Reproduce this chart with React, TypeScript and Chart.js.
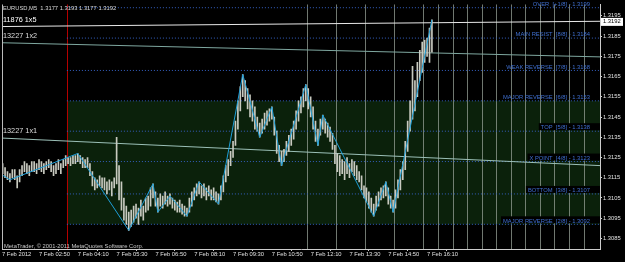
import React, { useEffect, useRef } from "react";
import { Chart, registerables } from "chart.js";
Chart.register(...registerables);

// ---- data ----
const symbolName = "EURUSD,M5";
const lastOHLC = [1.3177, 1.3193, 1.3177, 1.3192];

const highs = [
  1.3120, 1.3122, 1.3120, 1.3118, 1.3117, 1.3119, 1.3119, 1.3116, 1.3119, 1.3121,
  1.3123, 1.3122, 1.3121, 1.3123, 1.3123, 1.3122, 1.3124, 1.3123, 1.3122, 1.3123,
  1.3124, 1.3123, 1.3121, 1.3122, 1.3124, 1.3122, 1.3124, 1.3126, 1.3125, 1.3125,
  1.3126, 1.3126, 1.3127, 1.3126, 1.3125, 1.3124, 1.3125, 1.3122, 1.3118, 1.3115,
  1.3114, 1.3116, 1.3115, 1.3115, 1.3113, 1.3114, 1.3113, 1.3115, 1.3135, 1.3121,
  1.3113, 1.3105, 1.3101, 1.3098, 1.3099, 1.3101, 1.3102, 1.3100, 1.3104, 1.3101,
  1.3105, 1.3106, 1.3110, 1.3112, 1.3108, 1.3105, 1.3107, 1.3106, 1.3108, 1.3106,
  1.3107, 1.3105, 1.3104, 1.3103, 1.3104, 1.3102, 1.3101, 1.3100, 1.3105, 1.3108,
  1.3110, 1.3112, 1.3113, 1.3111, 1.3112, 1.3110, 1.3111, 1.3109, 1.3110, 1.3108,
  1.3107, 1.3111, 1.3116, 1.3121, 1.3124, 1.3128, 1.3133, 1.3143, 1.3153, 1.3160,
  1.3166, 1.3163, 1.3159, 1.3156, 1.3153, 1.3150, 1.3145, 1.3142, 1.3144, 1.3147,
  1.3148, 1.3149, 1.3150, 1.3145, 1.3138, 1.3131, 1.3128, 1.3129, 1.3133, 1.3136,
  1.3139, 1.3143, 1.3148, 1.3153, 1.3155, 1.3159, 1.3161, 1.3159, 1.3155, 1.3150,
  1.3143, 1.3139, 1.3144, 1.3146, 1.3144, 1.3142, 1.3140, 1.3137, 1.3131, 1.3127,
  1.3126, 1.3124, 1.3123, 1.3125, 1.3122, 1.3124, 1.3123, 1.3121, 1.3118, 1.3116,
  1.3111, 1.3110, 1.3108, 1.3105, 1.3102, 1.3106, 1.3108, 1.3110, 1.3111, 1.3113,
  1.3110, 1.3106, 1.3104, 1.3109, 1.3114, 1.3119, 1.3123, 1.3133, 1.3143, 1.3153,
  1.3170, 1.3163, 1.3172, 1.3178, 1.3182, 1.3183, 1.3184, 1.3189, 1.3193,
];

const lows = [
  1.3116, 1.3117, 1.3115, 1.3114, 1.3113, 1.3115, 1.3114, 1.3110, 1.3113, 1.3116,
  1.3118, 1.3117, 1.3116, 1.3118, 1.3118, 1.3117, 1.3119, 1.3118, 1.3117, 1.3119,
  1.3120, 1.3118, 1.3116, 1.3117, 1.3119, 1.3117, 1.3120, 1.3121, 1.3122, 1.3121,
  1.3122, 1.3122, 1.3123, 1.3122, 1.3120, 1.3120, 1.3120, 1.3116, 1.3111, 1.3109,
  1.3110, 1.3111, 1.3110, 1.3109, 1.3107, 1.3109, 1.3106, 1.3110, 1.3112, 1.3104,
  1.3099, 1.3094, 1.3092, 1.3089, 1.3091, 1.3093, 1.3095, 1.3092, 1.3096, 1.3094,
  1.3098, 1.3099, 1.3101, 1.3105, 1.3101, 1.3098, 1.3101, 1.3100, 1.3102, 1.3101,
  1.3102, 1.3100, 1.3099, 1.3098, 1.3098, 1.3097, 1.3096, 1.3096, 1.3098, 1.3101,
  1.3104, 1.3106, 1.3107, 1.3105, 1.3106, 1.3104, 1.3106, 1.3104, 1.3104, 1.3103,
  1.3102, 1.3104, 1.3108, 1.3113, 1.3116, 1.3121, 1.3125, 1.3131, 1.3139, 1.3148,
  1.3155, 1.3153, 1.3149, 1.3145, 1.3143, 1.3139, 1.3138, 1.3135, 1.3137, 1.3139,
  1.3141, 1.3143, 1.3144, 1.3136, 1.3127, 1.3123, 1.3121, 1.3123, 1.3126, 1.3128,
  1.3131, 1.3134, 1.3139, 1.3143, 1.3147, 1.3150, 1.3153, 1.3149, 1.3145, 1.3139,
  1.3133, 1.3131, 1.3136, 1.3139, 1.3137, 1.3135, 1.3133, 1.3129, 1.3122, 1.3118,
  1.3116, 1.3117, 1.3114, 1.3117, 1.3115, 1.3118, 1.3116, 1.3114, 1.3113, 1.3109,
  1.3105, 1.3103, 1.3100, 1.3098, 1.3096, 1.3099, 1.3101, 1.3104, 1.3105, 1.3106,
  1.3102, 1.3100, 1.3098, 1.3100, 1.3105, 1.3109, 1.3114, 1.3119, 1.3128, 1.3138,
  1.3144, 1.3148, 1.3155, 1.3163, 1.3167, 1.3172, 1.3175, 1.3172, 1.3177,
];

const zigzagIndex = [0, 4, 32, 53, 63, 65, 70, 77, 82, 90, 100, 107, 112, 116, 126, 131, 133, 154, 159, 162, 178];
const zigzagPrice = [
  1.3117, 1.3114, 1.3127, 1.3089, 1.3112, 1.3098, 1.3106, 1.3096, 1.3113, 1.3102,
  1.3166, 1.3135, 1.3150, 1.3121, 1.3161, 1.3131, 1.3146, 1.3096, 1.3113, 1.3098, 1.3193,
];

const levelPrices = [1.3199, 1.3184, 1.3168, 1.3153, 1.3138, 1.3123, 1.3107, 1.3092];
const levelLabels = [
  "OVER  [+1/8] - 1.3199",
  "MAIN RESIST  [8/8] - 1.3184",
  "WEAK REVERSE  [7/8] - 1.3168",
  "MAJOR REVERSE  [6/8] - 1.3153",
  "TOP  [5/8] - 1.3138",
  "X POINT  [4/8] - 1.3123",
  "BOTTOM  [3/8] - 1.3107",
  "MAJOR REVERSE  [2/8] - 1.3092",
];

const gannNames = ["11876 1x5", "13227 1x2", "13227 1x1"];
const gannStart = [1.31897, 1.31817, 1.31346];
const gannEnd = [1.31923, 1.31747, 1.31210];

const timeTickIndex = [0.74, 16, 32, 48, 64, 80, 96, 112, 128, 144, 160, 176];
const timeLabels = [
  "7 Feb 2012", "7 Feb 02:50", "7 Feb 04:10", "7 Feb 05:30", "7 Feb 06:50", "7 Feb 08:10",
  "7 Feb 09:30", "7 Feb 10:50", "7 Feb 12:10", "7 Feb 13:30", "7 Feb 14:50", "7 Feb 16:10",
];
const priceTicks = [1.3085, 1.3095, 1.3105, 1.3115, 1.3125, 1.3135, 1.3145, 1.3155, 1.3165, 1.3175, 1.3185, 1.3195];

const markerIndex = 27.5; // red vertical line / start of levels
const timeLineIndex = [126.5, 138.5, 150.5, 162.5, 174.5, 180.5, 186.5, 192.5, 198.5, 204.5, 210.5, 216.5, 222.5, 228.5, 234.5, 240.5];
const zoneTop = 1.3153;
const zoneBottom = 1.3092;

const xMin = 0.74;
const xMax = 247.3;
const yMin = 1.30798;
const yMax = 1.32006;

const FONT = "'Liberation Sans', Arial, sans-serif";
const small = `5.8px ${FONT}`;

const mtPlugin = {
  id: "mt",
  beforeDraw(chart: any) {
    const { ctx, width, height } = chart;
    ctx.save();
    ctx.fillStyle = "#000000";
    ctx.fillRect(0, 0, width, height);
    ctx.restore();
  },
  beforeDatasetsDraw(chart: any) {
    const { ctx, chartArea, scales } = chart;
    const x = scales.x, y = scales.y;
    ctx.save();
    const gx = x.getPixelForValue(markerIndex);
    const gy0 = y.getPixelForValue(zoneTop);
    const gy1 = y.getPixelForValue(zoneBottom);
    ctx.fillStyle = "#0b210b";
    ctx.fillRect(gx, gy0, chartArea.right - gx, gy1 - gy0);
    // time lines
    ctx.strokeStyle = "rgba(150,160,150,0.75)";
    ctx.lineWidth = 1;
    timeLineIndex.forEach((v) => {
      const px = Math.round(x.getPixelForValue(v)) + 0.5;
      ctx.beginPath();
      ctx.moveTo(px, chartArea.top);
      ctx.lineTo(px, chartArea.bottom);
      ctx.stroke();
    });
    // red line
    ctx.strokeStyle = "#b40000";
    const rx = Math.round(gx) + 0.5;
    ctx.beginPath();
    ctx.moveTo(rx, chartArea.top);
    ctx.lineTo(rx, chartArea.bottom);
    ctx.stroke();
    ctx.restore();
  },
  afterDatasetsDraw(chart: any) {
    const { ctx, chartArea, scales } = chart;
    const x = scales.x, y = scales.y;
    ctx.save();
    // level labels
    ctx.font = small;
    ctx.textAlign = "right";
    ctx.textBaseline = "bottom";
    const rightX = chartArea.right - 10;
    levelPrices.forEach((p, i) => {
      const py = y.getPixelForValue(p);
      const label = levelLabels[i];
      if (p <= zoneTop + 0.00001 && p > zoneBottom - 0.00001 && i > 3) {
        const w = ctx.measureText(label).width;
        ctx.fillStyle = "#000000";
        ctx.fillRect(rightX - w - 2, py - 8, chartArea.right - (rightX - w - 2), 7);
      }
      ctx.fillStyle = "#3f6fd0";
      ctx.fillText(label, rightX, py - 0.5);
    });
    // gann labels
    ctx.font = `7.3px ${FONT}`;
    ctx.textAlign = "left";
    ctx.textBaseline = "middle";
    gannNames.forEach((n, i) => {
      const py = y.getPixelForValue(gannStart[i]);
      ctx.fillStyle = i === 0 ? "#ffffff" : "#dddddd";
      ctx.fillText(n, chartArea.left + 1, py - 7);
    });
    // header
    ctx.font = small;
    ctx.fillStyle = "#d8d8d8";
    ctx.fillText(`${symbolName}  ${lastOHLC.map((v) => v.toFixed(4)).join(" ")}`, chartArea.left + 1, chartArea.top + 4);
    // copyright
    ctx.fillStyle = "#c8c8c8";
    ctx.fillText("MetaTrader, © 2001-2011 MetaQuotes Software Corp.", chartArea.left + 2, chartArea.bottom - 3);
    // left / top border
    ctx.strokeStyle = "#bbbbbb";
    ctx.lineWidth = 1;
    ctx.beginPath();
    ctx.moveTo(chartArea.left + 0.5, chartArea.top);
    ctx.lineTo(chartArea.left + 0.5, chartArea.bottom);
    ctx.stroke();
    ctx.restore();
  },
  afterDraw(chart: any) {
    const { ctx, chartArea, scales } = chart;
    const y = scales.y;
    ctx.save();
    const py = y.getPixelForValue(lastOHLC[3]);
    ctx.fillStyle = "#ffffff";
    ctx.fillRect(chartArea.right + 1, py - 4, 22, 8);
    ctx.fillStyle = "#000000";
    ctx.font = small;
    ctx.textAlign = "left";
    ctx.textBaseline = "middle";
    ctx.fillText(lastOHLC[3].toFixed(4), chartArea.right + 3, py);
    ctx.restore();
  },
};

export default function App() {
  const ref = useRef<HTMLCanvasElement | null>(null);
  useEffect(() => {
    if (!ref.current) return;
    const levelSets = levelPrices.map((p) => ({
      type: "line" as const,
      data: [{ x: markerIndex, y: p }, { x: xMax, y: p }],
      borderColor: "#3560c0",
      borderWidth: 1,
      borderDash: [1, 2],
      pointRadius: 0,
      order: 5,
    }));
    const gannSets = gannNames.map((_, i) => ({
      type: "line" as const,
      data: [{ x: xMin, y: gannStart[i] }, { x: xMax, y: gannEnd[i] }],
      borderColor: i === 0 ? "#e8e8e8" : i === 1 ? "#7fa8a0" : "#9cc0b8",
      borderWidth: 1,
      pointRadius: 0,
      order: 3,
    }));
    const chart = new Chart(ref.current, {
      type: "bar",
      data: {
        datasets: [
          {
            type: "line",
            data: zigzagIndex.map((v, i) => ({ x: v, y: zigzagPrice[i] })),
            borderColor: "#1e9fd8",
            borderWidth: 1,
            pointRadius: 0,
            order: 0,
          } as any,
          {
            type: "bar",
            data: highs.map((h, i) => ({ x: i, y: [lows[i], h] })),
            backgroundColor: "#c8cac0",
            barThickness: 1,
            grouped: false,
            order: 1,
          } as any,
          ...gannSets,
          ...levelSets,
        ],
      },
      options: {
        responsive: false,
        animation: false,
        devicePixelRatio: 1,
        layout: { padding: { left: 2, top: 2, right: 0, bottom: 0 } },
        plugins: { legend: { display: false }, tooltip: { enabled: false } },
        scales: {
          x: {
            type: "linear",
            min: xMin,
            max: xMax,
            offset: false,
            position: "bottom",
            afterFit(s: any) { s.height = 13; },
            afterBuildTicks(s: any) { s.ticks = timeTickIndex.map((v) => ({ value: v })); },
            ticks: {
              autoSkip: false,
              maxRotation: 0,
              align: "start",
              color: "#e0e0e0",
              padding: 0,
              font: { size: 5.8, family: FONT },
              callback: (_v: any, i: number) => timeLabels[i],
            },
            grid: { drawOnChartArea: false, drawTicks: true, tickLength: 2, color: "#cccccc" },
            border: { color: "#cccccc" },
          } as any,
          y: {
            type: "linear",
            position: "right",
            min: yMin,
            max: yMax,
            afterFit(s: any) { s.width = 25; },
            afterBuildTicks(s: any) { s.ticks = priceTicks.map((v) => ({ value: v })); },
            ticks: {
              autoSkip: false,
              color: "#e0e0e0",
              padding: 1,
              font: { size: 5.8, family: FONT },
              callback: (v: any) => Number(v).toFixed(4),
            },
            grid: { drawOnChartArea: false, drawTicks: true, tickLength: 2, color: "#cccccc" },
            border: { color: "#cccccc" },
          } as any,
        },
      },
      plugins: [mtPlugin],
    });
    return () => chart.destroy();
  }, []);
  return (
    <div style={{ position: "absolute", left: 0, top: 0, width: 625, height: 262, background: "#000" }}>
      <canvas ref={ref} width={625} height={262} />
    </div>
  );
}
